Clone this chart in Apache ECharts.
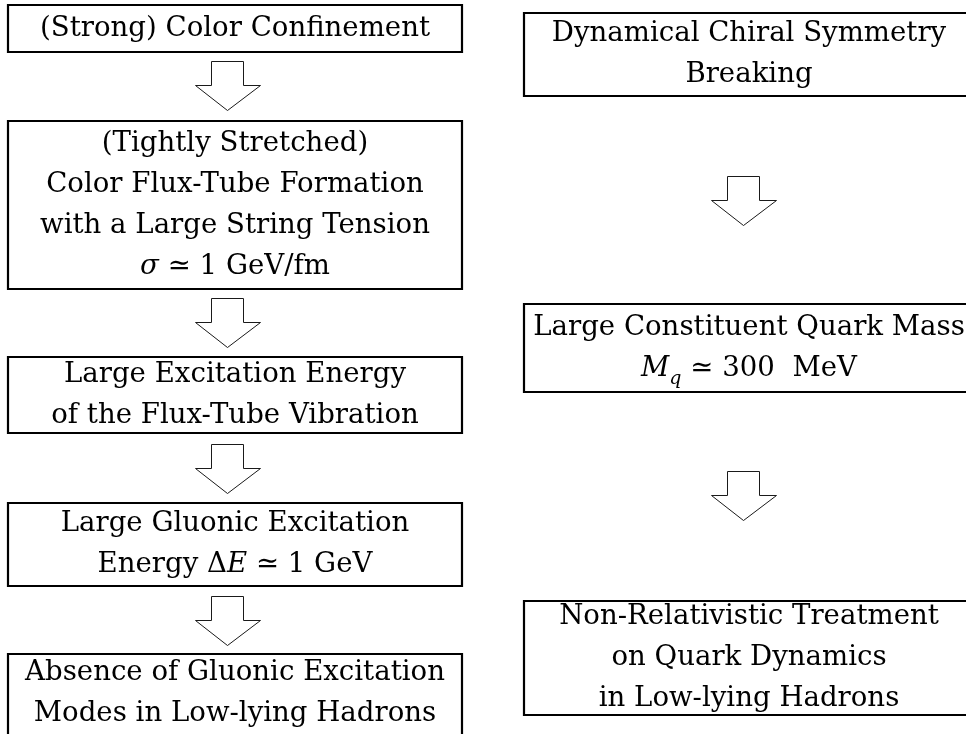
<!DOCTYPE html>
<html>
<head>
<meta charset="utf-8">
<script src="https://cdn.jsdelivr.net/npm/echarts@6/dist/echarts.min.js"></script>
<style>
html,body{margin:0;padding:0;background:#fff}
#main{width:966px;height:734px}
</style>
</head>
<body>
<div id="main"></div>
<script>
// left chain (confinement side)
const leftTexts = [
  '(Strong) Color Confinement',
  '(Tightly Stretched)\nColor Flux-Tube Formation\nwith a Large String Tension\n{i|σ} ≃ 1 GeV/fm',
  'Large Excitation Energy\nof the Flux-Tube Vibration',
  'Large Gluonic Excitation\nEnergy Δ{i|E} ≃ 1 GeV',
  'Absence of Gluonic Excitation\nModes in Low-lying Hadrons'
]
const leftTop = [5, 121, 357, 503, 654]
const leftBottom = [52, 289, 433, 586, 740]
const leftCol = [8, 462]
const leftArrowTop = [61, 298, 444, 596]
const leftArrowX = 227

// right chain (chiral side)
const rightTexts = [
  'Dynamical Chiral Symmetry\nBreaking',
  'Large Constituent Quark Mass\n{i|M}{s|q} ≃ 300  MeV',
  'Non-Relativistic Treatment\non Quark Dynamics\nin Low-lying Hadrons'
]
const rightTop = [13, 304, 601]
const rightBottom = [96, 392, 715]
const rightCol = [524, 974]
const rightArrowTop = [176, 471]
const rightArrowX = 743

const FONT = '"DejaVu Serif", "Liberation Serif", serif'
const FS = 27.6
const LH = 41

const boxData = []
const boxTexts = []
leftTexts.forEach((t, i) => {
  boxData.push([leftCol[0], leftTop[i], leftCol[1], leftBottom[i]])
  boxTexts.push(t)
})
rightTexts.forEach((t, i) => {
  boxData.push([rightCol[0], rightTop[i], rightCol[1], rightBottom[i]])
  boxTexts.push(t)
})

const arrowData = []
leftArrowTop.forEach(y => arrowData.push([leftArrowX, y]))
rightArrowTop.forEach(y => arrowData.push([rightArrowX, y]))

const renderBox = (params, api) => {
  const p0 = api.coord([api.value(0), api.value(1)])
  const p1 = api.coord([api.value(2), api.value(3)])
  const x = Math.min(p0[0], p1[0]), y = Math.min(p0[1], p1[1])
  const w = Math.abs(p1[0] - p0[0]), h = Math.abs(p1[1] - p0[1])
  // the last left box runs off the bottom edge: centre text in what is visible
  const cx = (p0[0] + p1[0]) / 2
  const cy = (api.value(1) === leftTop[4]) ? (p0[1] + 733) / 2 : y + h / 2
  return {
    type: 'group',
    children: [
      {
        type: 'rect',
        shape: { x, y, width: w, height: h },
        style: { fill: '#fff', stroke: '#000', lineWidth: 2.2 }
      },
      {
        type: 'text',
        style: {
          text: boxTexts[params.dataIndex],
          x: cx,
          y: cy,
          align: 'center',
          verticalAlign: 'middle',
          fill: '#000',
          fontFamily: FONT,
          fontSize: FS,
          lineHeight: LH,
          rich: {
            i: { fontFamily: FONT, fontSize: FS, lineHeight: LH, fontStyle: 'italic', fill: '#000' },
            s: { fontFamily: FONT, fontSize: 19, lineHeight: 19, fontStyle: 'italic', fill: '#000', verticalAlign: 'bottom' }
          }
        }
      }
    ]
  }
}

const renderArrow = (params, api) => {
  const cx = api.value(0), top = api.value(1)
  const pts = [
    [cx - 16, top], [cx + 16, top], [cx + 16, top + 24], [cx + 32.5, top + 24],
    [cx, top + 49], [cx - 32.5, top + 24], [cx - 16, top + 24]
  ].map(p => {
    const c = api.coord(p)
    return [Math.round(c[0]) + 0.5, Math.round(c[1]) + 0.5]
  })
  return {
    type: 'polygon',
    shape: { points: pts },
    style: { fill: '#fff', stroke: '#1a1a1a', lineWidth: 1 }
  }
}

const chart = echarts.init(document.getElementById('main'))
chart.setOption({
  backgroundColor: '#fff',
  animation: false,
  grid: { left: 0, right: 0, top: 0, bottom: 0 },
  xAxis: { type: 'value', min: 0, max: 966, show: false },
  yAxis: { type: 'value', min: 0, max: 734, inverse: true, show: false },
  series: [
    { type: 'custom', renderItem: renderBox, data: boxData, clip: true, silent: true },
    { type: 'custom', renderItem: renderArrow, data: arrowData, clip: true, silent: true }
  ]
})
</script>
</body>
</html>
